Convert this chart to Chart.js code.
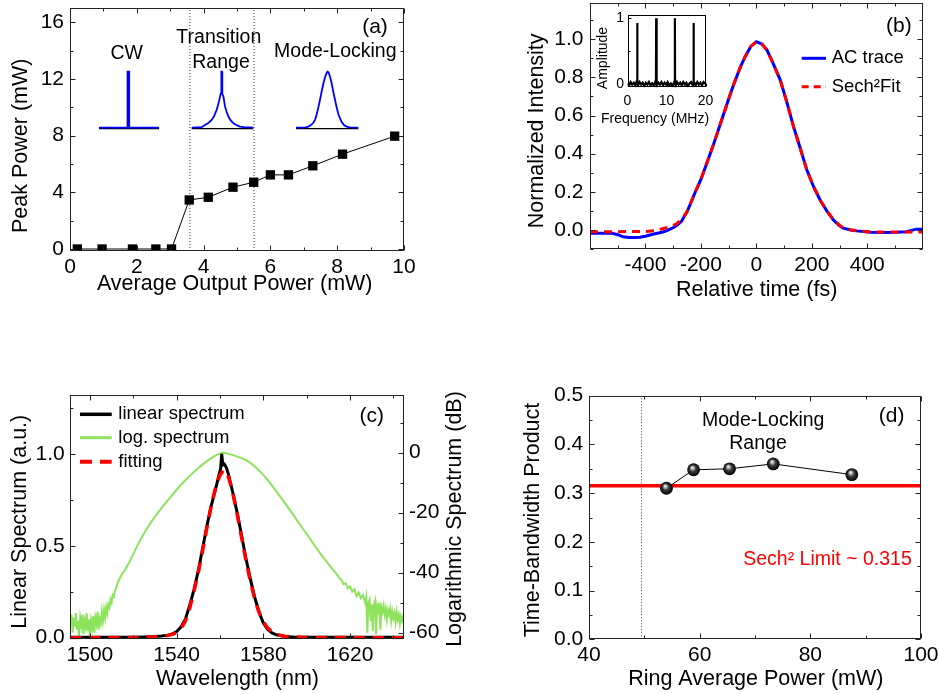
<!DOCTYPE html>
<html><head><meta charset="utf-8">
<script src="https://cdn.jsdelivr.net/npm/chart.js@4.4.1/dist/chart.umd.min.js"></script>
<style>
html,body{margin:0;padding:0;background:#fff;}
body{width:939px;height:694px;position:relative;overflow:hidden;}
canvas{position:absolute;}
</style></head><body>
<canvas id="cA" width="470" height="310" style="left:0px;top:0px"></canvas>
<canvas id="cB" width="469" height="310" style="left:470px;top:0px"></canvas>
<canvas id="cC" width="470" height="334" style="left:0px;top:360px"></canvas>
<canvas id="cD" width="469" height="334" style="left:470px;top:360px"></canvas>
<canvas id="iA1" width="68" height="66" style="left:95px;top:66px"></canvas>
<canvas id="iA2" width="71" height="66" style="left:187px;top:66px"></canvas>
<canvas id="iA3" width="70" height="66" style="left:292px;top:66px"></canvas>
<canvas id="iB" width="125" height="122" style="left:590px;top:8px"></canvas>
<script>
// ================= DATA =================
// (a) peak power vs average output power
const aAvgPower  = [0.22,0.96,1.87,2.57,3.04,3.57,4.14,4.88,5.50,6.00,6.54,7.27,8.16,9.72];
const aPeakPower = [0,0,0,0,0,3.46,3.65,4.36,4.71,5.23,5.23,5.87,6.69,7.96];
const aRegionBounds = [3.59, 5.51];
const aXTicks = [0,2,4,6,8,10];
const aYTicks = [0,4,8,12,16];
// (a) inset spectra (relative position, normalised amplitude)
const cwX = [-30,-2.0,-2.0,-1.2,-1.2,0.2,0.2,30];
const cwY = [0,0,0.58,0.58,1,1,0,0];
const trX = [-30,-20,-16.7,-13,-10,-7.5,-5,-2.7,-1.3,-0.6,-0.3,0.3,0.6,1.7,3.3,5,6.7,9,11.7,15,18.3,22,31.6];
const trY = [0,0.01,0.05,0.09,0.14,0.21,0.32,0.47,0.59,0.62,1.0,1.0,0.6,0.56,0.38,0.28,0.2,0.13,0.08,0.045,0.02,0.01,0];
const mlX = [-31.7,-22,-19.3,-16.5,-14.3,-12.5,-11,-9.5,-7.7,-6,-4.3,-2.5,-1,0,1,2.5,4,5.5,7.3,9,10.7,12.5,14,16.5,19,22,30.6];
const mlY = [0,0.005,0.02,0.05,0.09,0.15,0.24,0.35,0.5,0.65,0.79,0.91,0.98,1.0,0.98,0.9,0.79,0.65,0.5,0.36,0.24,0.16,0.1,0.045,0.02,0.005,0];

// (b) autocorrelation trace and sech^2 fit
const bTime = [-600,-560,-520,-500,-480,-460,-440,-420,-400,-370,
  -340,-320,-300,-285,-270,-260,-250,-237,-220,-200,
  -180,-153,-130,-105,-80,-57,-40,-20,0,20,
  38,60,86,110,134,158,182,206,230,254,
  278,300,314,340,362,410,460,506,541,577,600];
const bAC = [-0.017,-0.017,-0.018,-0.025,-0.036,-0.040,-0.040,-0.038,-0.033,-0.021,
  -0.012,-0.002,0.012,0.026,0.045,0.070,0.095,0.140,0.200,0.265,
  0.345,0.455,0.555,0.664,0.770,0.856,0.910,0.962,0.987,0.975,
  0.944,0.875,0.787,0.670,0.542,0.430,0.315,0.228,0.157,0.100,
  0.052,0.022,0.009,0.000,-0.005,-0.012,-0.013,-0.012,-0.009,0.004,0.004];
const bFitTime = [-600,-500,-400,-360,-345,-325,-309,-290,-273,-260,
  -250,-237,-220,-200,-180,-153,-130,-105,-80,-57,
  -40,-20,0,20,38,60,86,110,134,158,
  182,206,230,254,278,300,314,340,362,400,
  450,500,550,600];
const bFit = [-0.009,-0.009,-0.008,-0.004,0.004,0.011,0.019,0.030,0.050,0.073,
  0.097,0.140,0.200,0.265,0.345,0.455,0.555,0.664,0.770,0.856,
  0.910,0.962,0.987,0.975,0.944,0.875,0.787,0.670,0.542,0.430,
  0.315,0.228,0.157,0.100,0.055,0.025,0.011,0.001,-0.004,-0.009,
  -0.011,-0.011,-0.011,-0.011];
const bXTicks = [-400,-200,0,200,400];
const bYTicks = [0,0.2,0.4,0.6,0.8,1.0];
// (b) inset RF spectrum
const bFreq = [0,0.4,0.8,1.2,1.6,2.0,2.3,2.45,2.5,2.55,
  2.7,3.1,3.5,3.9,4.3,4.7,5.1,5.5,5.9,6.3,
  6.7,7.1,7.3,7.35,7.4,7.55,7.9,8.3,8.7,9.1,
  9.5,9.9,10.3,10.7,11.1,11.5,11.9,12.1,12.15,12.2,
  12.35,12.7,13.1,13.5,13.9,14.3,14.7,15.1,15.5,15.9,
  16.3,16.7,16.9,16.95,17.0,17.15,17.5,17.9,18.3,18.7,
  19.1,19.5,20];
const bAmp = [0.01,-0.02,0.03,-0.01,0.02,-0.02,0.03,0.0,0.93,0.0,
  -0.02,0.03,-0.01,0.02,-0.03,0.02,-0.01,0.03,-0.02,0.01,
  -0.02,0.03,0.0,1.0,0.0,-0.02,0.02,-0.01,0.03,-0.02,
  0.02,-0.01,0.03,-0.02,0.01,-0.03,0.02,0.0,1.0,0.0,
  -0.02,0.03,-0.01,0.02,-0.02,0.03,-0.01,0.02,-0.03,0.01,
  0.03,-0.02,0.0,0.93,0.0,0.02,-0.02,0.03,-0.01,0.02,
  -0.02,0.03,0.0];
const bFreqTicks = [0,10,20];
const bAmpTicks = [0,1];

// (c) optical spectrum
const cWl = [1491,1500,1510,1520,1525,1530,1533,1536,1538,1540,
  1542,1544,1546,1548,1550,1552,1554,1556,1558,1559.5,
  1560.3,1560.8,1561.3,1562,1563,1564,1566,1568,1570,1572,
  1574,1576,1578,1580,1582,1584,1586,1590,1595,1600,
  1610,1620,1630,1645];
const cLin = [0.002,0.002,0.002,0.003,0.004,0.006,0.009,0.014,0.021,0.033,
  0.058,0.100,0.175,0.262,0.365,0.487,0.610,0.720,0.810,0.885,
  0.920,1.000,0.940,0.945,0.925,0.885,0.785,0.675,0.555,0.430,
  0.320,0.220,0.140,0.080,0.045,0.026,0.016,0.007,0.003,0.002,
  0.002,0.002,0.002,0.002];
const cFitWl = [1491,1520,1530,1535,1538,1540,1542,1544,1546,1548,
  1550,1552,1554,1556,1558,1560,1561.8,1563.5,1565.5,1567.5,
  1569.5,1571.5,1573.5,1575.5,1577.5,1579.5,1581.5,1583.5,1586,1590,
  1600,1645];
const cFit = [0,0.001,0.004,0.010,0.018,0.028,0.050,0.090,0.160,0.250,
  0.355,0.475,0.600,0.720,0.820,0.885,0.913,0.890,0.810,0.700,
  0.575,0.450,0.335,0.235,0.155,0.098,0.060,0.036,0.018,0.007,
  0.001,0];
const cLogWl = [1491,1491.5,1492,1492.5,1493,1493.5,1494,1494.5,1495,1495.5,
  1496,1496.5,1497,1497.5,1498,1498.5,1499,1499.5,1500,1500.5,
  1501,1501.5,1502,1502.5,1503,1503.5,1504,1504.5,1505,1505.5,
  1506,1506.5,1507,1507.5,1508,1508.5,
  1509,1509.5,1510,1510.5,1511,1511.5,1512,1512.5,1513,
  1514,1515,1516,1517,1518,1519,1520,
  1522,1524,1526,1528,1530,1532,1534,1536,1538,1540,
  1542,1544,1546,1548,1550,1552,1554,1556,1558,1560,
  1561,1562,
  1564,1566,1568,1570,1572,1574,1576,1578,1580,1582,
  1584,1586,1588,1590,1592,1594,1596,1598,1600,1602,
  1604,1606,1608,1610,1612,1614,
  1615,1616,1617,1618,1619,1620,1621,1622,1623,1624,1625,1626,1627,
  1627.5,1628,1628.5,1629,1629.5,1630,1630.5,1631,1631.5,1632,
  1632.5,1633,1633.5,1634,1634.5,1635,1635.5,1636,1636.5,1637,
  1637.5,1638,1638.5,1639,1639.5,1640,1640.5,1641,1641.5,1642,
  1642.5,1643,1643.5,1644,1644.5,1645];
const cLogDb = [-57,-54,-60,-55,-58,-53.5,-59,-56,-61,-55,
  -57.5,-54,-60.5,-56,-58,-53.5,-59.5,-55.5,-61,-56,
  -58.5,-54.5,-60,-55,-57,-53,-59,-55.5,-57,-53,
  -56,-52.5,-55,-51.5,-53.5,-50.5,
  -51.5,-49,-50,-47.5,-48,-46,-45.5,-44,-43,
  -41.5,-40.2,-39.3,-38,-36.8,-35.3,-33.8,
  -30.8,-28.1,-25.6,-23.4,-21.3,-19.4,-17.6,-15.8,-14.1,-12.4,
  -10.7,-9.2,-7.8,-6.4,-5.1,-3.9,-2.8,-1.8,-0.9,-0.3,
  0,-0.1,
  -0.4,-0.8,-1.3,-1.8,-2.5,-3.4,-4.5,-5.9,-7.4,-9.1,
  -11,-12.9,-14.8,-16.8,-18.8,-20.9,-23,-25.1,-27.1,-29.2,
  -31.3,-33.3,-35.2,-37.1,-38.9,-40.6,
  -41.8,-42.3,-43.8,-43.5,-45.2,-44.6,-46.3,-45.5,-47.8,-46.6,-48.5,-47.5,-50,
  -48,-60,-50,-49,-56,-50.5,-59.5,-51,-49.5,-60.5,
  -51,-52.5,-50,-59,-51.5,-53,-51,-54,-52,-55.5,
  -52.5,-54,-52,-56,-53,-55,-53.5,-56.5,-53,-55.5,
  -54,-57,-54.5,-56,-54.5,-56];
const cXTicks = [1500,1540,1580,1620];
const cYTicks = [0,0.5,1.0];
const cY2Ticks = [-60,-40,-20,0];

// (d) time-bandwidth product
const dRingPower = [54.0,58.9,65.4,73.3,87.5];
const dTBP = [0.310,0.348,0.350,0.360,0.338];
const dSechLimit = 0.315;
const dRegionStart = 49.5;
const dXTicks = [40,60,80,100];
const dYTicks = [0,0.1,0.2,0.3,0.4,0.5];

// ================= HELPERS =================
const FONT = '"Liberation Sans", Arial, Helvetica, sans-serif';
const pts = (xs, ys) => xs.map((x, i) => ({x: x, y: ys[i]}));
Chart.defaults.font.family = FONT;
Chart.defaults.color = '#000';
Chart.defaults.animation = false;
Chart.defaults.events = [];
Chart.defaults.plugins.legend.display = false;
Chart.defaults.plugins.tooltip.enabled = false;
Chart.defaults.elements.line.tension = 0;
Chart.defaults.elements.point.radius = 0;

function axis(o) {
  return {
    type: 'linear', position: o.pos, min: o.min, max: o.max,
    grid: {display: false, drawTicks: false, tickLength: 0, drawOnChartArea: false},
    border: {display: false},
    ticks: {color: '#000', font: {family: FONT, size: o.fs || 21}, padding: o.pad,
      maxRotation: 0, minRotation: 0, autoSkip: false,
      callback: o.fmt || (v => String(v))},
    afterBuildTicks: s => { s.ticks = o.ticks.map(v => ({value: v})); },
    afterFit: s => {
      if (s.isHorizontal()) { s.height = o.size; s.paddingLeft = 0; s.paddingRight = 0; }
      else { s.width = o.size; s.paddingTop = 0; s.paddingBottom = 0; }
    }
  };
}
function frameTicks(axes, opt) {
  opt = opt || {};
  return { id: 'frameTicks', afterDatasetsDraw(chart) {
    const ctx = chart.ctx, a = chart.chartArea;
    const L = Math.round(a.left) + 0.5, R = Math.round(a.right) - 0.5;
    const T = Math.round(a.top) + 0.5, B = Math.round(a.bottom) - 0.5;
    ctx.save();
    ctx.strokeStyle = opt.color || '#222'; ctx.lineWidth = 1;
    ctx.strokeRect(L, T, R - L, B - T);
    const maj = opt.major || 5, mi = opt.minor || 3;
    axes.forEach(ax => {
      const s = chart.scales[ax.id];
      const vals = s.ticks.map(t => t.value);
      const list = vals.map(v => [v, maj]);
      if (vals.length > 1) {
        const step = vals[1] - vals[0];
        for (let i = 0; i < vals.length - 1; i++) list.push([(vals[i] + vals[i + 1]) / 2, mi]);
        list.push([vals[0] - step / 2, mi], [vals[vals.length - 1] + step / 2, mi]);
      }
      list.forEach(([v, len]) => {
        if (v < s.min - 1e-9 || v > s.max + 1e-9) return;
        const p = Math.round(s.getPixelForValue(v)) + 0.5;
        ctx.beginPath();
        ax.sides.forEach(side => {
          if (side === 'bottom') { ctx.moveTo(p, B); ctx.lineTo(p, B - len); }
          if (side === 'top') { ctx.moveTo(p, T); ctx.lineTo(p, T + len); }
          if (side === 'left') { ctx.moveTo(L, p); ctx.lineTo(L + len, p); }
          if (side === 'right') { ctx.moveTo(R, p); ctx.lineTo(R - len, p); }
        });
        ctx.stroke();
      });
    });
    ctx.restore();
  }};
}
function texts(items, ox, oy) {
  return { id: 'texts', afterDraw(chart) {
    const ctx = chart.ctx;
    items.forEach(it => {
      ctx.save();
      ctx.font = (it.s || 21) + 'px ' + FONT;
      ctx.fillStyle = it.c || '#000';
      ctx.textAlign = it.al || 'center';
      ctx.textBaseline = 'middle';
      ctx.translate(it.x - ox, it.y - oy);
      if (it.r) ctx.rotate(it.r * Math.PI / 180);
      ctx.fillText(it.t, 0, 0);
      ctx.restore();
    });
  }};
}
function legendLines(items, ox, oy, size) {
  return { id: 'legendLines', afterDraw(chart) {
    const ctx = chart.ctx;
    items.forEach(it => {
      const ds = chart.data.datasets[it.ds];
      ctx.save();
      ctx.strokeStyle = ds.borderColor; ctx.lineWidth = it.lw || ds.borderWidth;
      ctx.setLineDash(it.dash || ds.borderDash || []);
      ctx.beginPath(); ctx.moveTo(it.x1 - ox, it.y - oy); ctx.lineTo(it.x2 - ox, it.y - oy); ctx.stroke();
      ctx.setLineDash([]);
      ctx.fillStyle = '#000'; ctx.font = size + 'px ' + FONT;
      ctx.textAlign = 'left'; ctx.textBaseline = 'middle';
      ctx.fillText(ds.label, it.tx - ox, it.y - oy);
      ctx.restore();
    });
  }};
}

// ================= PANEL (a) =================
const A_YMIN = -0.14, A_YMAX = 17.0;
new Chart(document.getElementById('cA'), {
  type: 'line',
  data: {datasets: [
    {label: 'Peak power', data: pts(aAvgPower, aPeakPower), borderColor: '#000', borderWidth: 1,
     pointStyle: 'rect', pointRadius: 6.6, pointBackgroundColor: '#000', pointBorderWidth: 0, order: 0},
    ...aRegionBounds.map(v => ({label: 'bound', data: [{x: v, y: A_YMIN}, {x: v, y: A_YMAX}],
      borderColor: '#333', borderWidth: 1, borderDash: [1, 2], order: 1}))
  ]},
  options: {
    responsive: false, devicePixelRatio: 1,
    layout: {padding: {left: 0, top: 8, right: 66, bottom: 0}},
    scales: {
      x: axis({pos: 'bottom', min: 0, max: 10, ticks: aXTicks, pad: 4, size: 59}),
      y: axis({pos: 'left', min: A_YMIN, max: A_YMAX, ticks: aYTicks, pad: 6, size: 70})
    }
  },
  plugins: [
    frameTicks([{id: 'x', sides: ['bottom', 'top']}, {id: 'y', sides: ['left', 'right']}]),
    texts([
      {t: 'Peak Power (mW)', x: 21, y: 145.8, r: -90, s: 21.5},
      {t: 'Average Output Power (mW)', x: 234.7, y: 284.2, s: 21.5},
      {t: '(a)', x: 375, y: 27, s: 21},
      {t: 'CW', x: 126.7, y: 53.3, s: 19.5},
      {t: 'Transition', x: 218.8, y: 37.5, s: 19.5},
      {t: 'Range', x: 221, y: 62.3, s: 19.5},
      {t: 'Mode-Locking', x: 335.3, y: 51.7, s: 19.5}
    ], 0, 0)
  ]
});
function insetA(id, xs, ys, pad) {
  const x0 = xs[0], x1 = xs[xs.length - 1];
  new Chart(document.getElementById(id), {
    type: 'line',
    data: {datasets: [
      {label: 'spectrum', data: pts(xs, ys), borderColor: '#0000ff', borderWidth: 1.8, order: 0, clip: false},
      {label: 'baseline', data: [{x: x0, y: -0.015}, {x: x1, y: -0.015}], borderColor: '#000', borderWidth: 1.2, order: 1, clip: false}
    ]},
    options: {
      responsive: false, devicePixelRatio: 1,
      layout: {padding: pad},
      scales: {x: {type: 'linear', display: false, min: x0, max: x1},
               y: {type: 'linear', display: false, min: 0, max: 1}}
    }
  });
}
insetA('iA1', cwX, cwY, {left: 4, right: 4, top: 5.7, bottom: 4.3});
insetA('iA2', trX, trY, {left: 4.7, right: 4.7, top: 5.7, bottom: 4.3});
insetA('iA3', mlX, mlY, {left: 4, right: 3.7, top: 5.7, bottom: 4.3});

// ================= PANEL (b) =================
new Chart(document.getElementById('cB'), {
  type: 'line',
  data: {datasets: [
    {label: 'AC trace', data: pts(bTime, bAC), borderColor: '#0000ff', borderWidth: 3, order: 1},
    {label: 'Sech\u00B2Fit', data: pts(bFitTime, bFit), borderColor: '#ff0000', borderWidth: 3, borderDash: [8, 6], order: 0}
  ]},
  options: {
    responsive: false, devicePixelRatio: 1,
    layout: {padding: {left: 0, top: 3, right: 16.3, bottom: 0}},
    scales: {
      x: axis({pos: 'bottom', min: -600, max: 600, ticks: bXTicks, pad: 3.4, size: 61}),
      y: axis({pos: 'left', min: -0.1, max: 1.19, ticks: bYTicks, pad: 6.5, size: 120, fmt: v => v.toFixed(1)})
    }
  },
  plugins: [
    frameTicks([{id: 'x', sides: ['bottom', 'top']}, {id: 'y', sides: ['left', 'right']}]),
    texts([
      {t: 'Normalized Intensity', x: 536.7, y: 130.8, r: -90, s: 21.5},
      {t: 'Relative time (fs)', x: 756.7, y: 290.5, s: 21.5},
      {t: '(b)', x: 898.8, y: 25.8, s: 21}
    ], 470, 0),
    legendLines([
      {ds: 0, x1: 801.7, x2: 826, y: 58.3, tx: 831.7},
      {ds: 1, x1: 801.7, x2: 826, y: 86.7, tx: 831.7, dash: [7, 5]}
    ], 470, 0, 18.5)
  ]
});
new Chart(document.getElementById('iB'), {
  type: 'line',
  data: {datasets: [
    {label: 'RF spectrum', data: pts(bFreq, bAmp), borderColor: '#000', borderWidth: 2.2}
  ]},
  options: {
    responsive: false, devicePixelRatio: 1,
    layout: {padding: {left: 0, top: 7, right: 9.5, bottom: 0}},
    scales: {
      x: axis({pos: 'bottom', min: 0, max: 20, ticks: bFreqTicks, pad: 5, size: 42.7, fs: 14}),
      y: axis({pos: 'left', min: -0.05, max: 1.05, ticks: bAmpTicks, pad: 3.5, size: 37.5, fs: 14})
    }
  },
  plugins: [
    frameTicks([{id: 'x', sides: ['bottom']}, {id: 'y', sides: ['left']}], {major: 3, minor: 2, color: '#000'}),
    texts([
      {t: 'Frequency (MHz)', x: 655, y: 119.5, s: 14},
      {t: 'Amplitude', x: 603, y: 58, r: -90, s: 14}
    ], 590, 8)
  ]
});

// ================= PANEL (c) =================
new Chart(document.getElementById('cC'), {
  type: 'line',
  data: {datasets: [
    {label: 'linear spectrum', data: pts(cWl, cLin), borderColor: '#000', borderWidth: 3, yAxisID: 'y', order: 1},
    {label: 'log. spectrum', data: pts(cLogWl, cLogDb), borderColor: '#8de45c', borderWidth: 2, yAxisID: 'y2', order: 2},
    {label: 'fitting', data: pts(cFitWl, cFit), borderColor: '#ff0000', borderWidth: 3.5, borderDash: [11, 8], yAxisID: 'y', order: 0}
  ]},
  options: {
    responsive: false, devicePixelRatio: 1,
    layout: {padding: {left: 0, top: 35, right: 0, bottom: 0}},
    scales: {
      x: axis({pos: 'bottom', min: 1490.8, max: 1644.9, ticks: cXTicks, pad: 3.1, size: 54.7}),
      y: axis({pos: 'left', min: -0.0087, max: 1.321, ticks: cYTicks, pad: 5.3, size: 70, fmt: v => v.toFixed(1)}),
      y2: axis({pos: 'right', min: -62.2, max: 19.23, ticks: cY2Ticks, pad: 5, size: 66})
    }
  },
  plugins: [
    frameTicks([{id: 'x', sides: ['bottom', 'top']}, {id: 'y', sides: ['left']}, {id: 'y2', sides: ['right']}]),
    texts([
      {t: 'Linear Spectrum (a.u.)', x: 20, y: 521.7, r: -90, s: 21.5},
      {t: 'Logarithmic Spectrum (dB)', x: 455, y: 519, r: -90, s: 21.5},
      {t: 'Wavelength (nm)', x: 237.5, y: 678.8, s: 21.5},
      {t: '(c)', x: 371.7, y: 416.7, s: 21}
    ], 0, 360),
    legendLines([
      {ds: 0, x1: 80, x2: 111.7, y: 414.3, tx: 118.3, lw: 3.5},
      {ds: 1, x1: 80, x2: 111.7, y: 437.7, tx: 118.3, lw: 3},
      {ds: 2, x1: 80, x2: 111.7, y: 461.7, tx: 118.3, lw: 4, dash: [12, 8]}
    ], 0, 360, 18.5)
  ]
});

// ================= PANEL (d) =================
const sphereFill = c => {
  if (c.type !== 'data' || !c.parsed) return '#000';
  const ch = c.chart;
  const x = ch.scales.x.getPixelForValue(c.parsed.x);
  const y = ch.scales.y.getPixelForValue(c.parsed.y);
  if (!isFinite(x) || !isFinite(y)) return '#000';
  const g = ch.ctx.createRadialGradient(x - 1.5, y - 2.5, 0, x, y, 6.5);
  g.addColorStop(0, '#ffffff');
  g.addColorStop(0.18, '#c8c8c8');
  g.addColorStop(0.5, '#3a3a3a');
  g.addColorStop(1, '#000000');
  return g;
};
new Chart(document.getElementById('cD'), {
  type: 'line',
  data: {datasets: [
    {label: 'TBP', data: pts(dRingPower, dTBP), borderColor: '#000', borderWidth: 1,
     pointRadius: 6.4, pointBorderWidth: 0, pointBackgroundColor: sphereFill, order: 0},
    {label: 'Sech\u00B2 limit', data: [{x: 40, y: dSechLimit}, {x: 100, y: dSechLimit}], borderColor: '#ff0000', borderWidth: 3.5, order: 1},
    {label: 'Region start', data: [{x: dRegionStart, y: 0}, {x: dRegionStart, y: 0.5}], borderColor: '#333', borderWidth: 1, borderDash: [1, 2], order: 2}
  ]},
  options: {
    responsive: false, devicePixelRatio: 1,
    layout: {padding: {left: 0, top: 35.7, right: 18, bottom: 0}},
    scales: {
      x: axis({pos: 'bottom', min: 40, max: 100, ticks: dXTicks, pad: 3.1, size: 54.7}),
      y: axis({pos: 'left', min: 0, max: 0.5, ticks: dYTicks, pad: 5.7, size: 119, fmt: v => v.toFixed(1)})
    }
  },
  plugins: [
    frameTicks([{id: 'x', sides: ['bottom', 'top']}, {id: 'y', sides: ['left', 'right']}]),
    texts([
      {t: 'Time-Bandwidth Product', x: 533, y: 520, r: -90, s: 21.5},
      {t: 'Ring Average Power (mW)', x: 755.8, y: 679, s: 21.5},
      {t: 'Mode-Locking', x: 763.2, y: 421, s: 19.5},
      {t: 'Range', x: 758, y: 444, s: 19.5},
      {t: '(d)', x: 891.7, y: 416.7, s: 21},
      {t: 'Sech\u00B2 Limit ~ 0.315', x: 827.5, y: 559.7, s: 19.5, c: '#ff0000'}
    ], 470, 360)
  ]
});
</script>
</body></html>
